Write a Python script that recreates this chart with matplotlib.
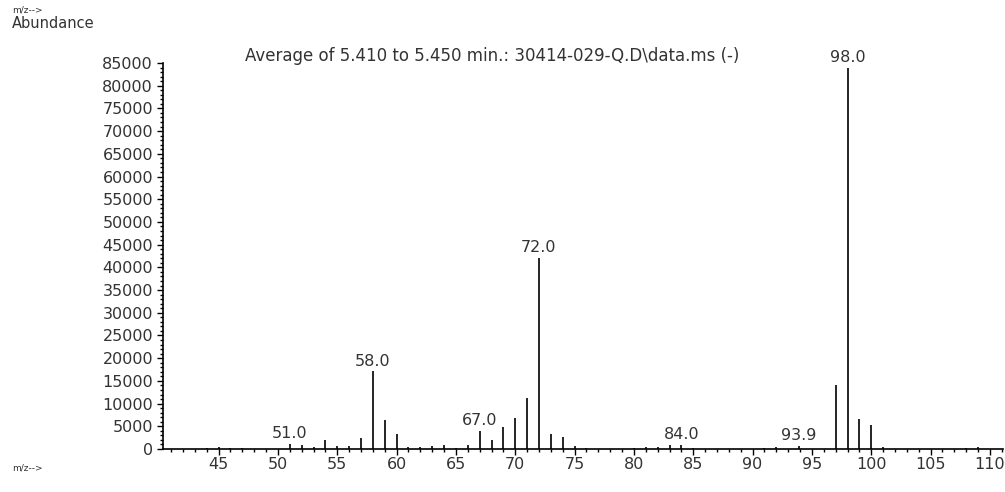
import matplotlib
matplotlib.use("Agg")
import matplotlib.pyplot as plt
from matplotlib.ticker import MultipleLocator

# Espectro de masas promedio (m/z vs abundancia)
mz = [44, 45, 46, 47, 51, 52, 53, 54, 55, 56, 57, 58, 59, 60, 61, 62, 63, 64,
      65, 66, 67, 68, 69, 70, 71, 72, 73, 74, 75, 76, 80, 81, 82, 83, 84, 85,
      91, 92, 93.9, 97, 98, 99, 100, 101, 108, 109]
abundance = [300, 400, 300, 200, 1100, 900, 400, 1900, 600, 700, 2400, 17100,
             6300, 3300, 500, 400, 600, 900, 300, 800, 4000, 2000, 4800, 6800,
             11200, 42000, 3400, 2700, 600, 300, 300, 500, 400, 800, 900, 300,
             300, 400, 600, 14200, 83900, 6700, 5200, 500, 300, 400]

labeled_mz = [51.0, 58.0, 67.0, 72.0, 84.0, 93.9, 98.0]
labeled_ab = [1100, 17100, 4000, 42000, 900, 600, 83900]

title = "Average of 5.410 to 5.450 min.: 30414-029-Q.D\\data.ms (-)"
text_color = "#333333"

fig = plt.figure(figsize=(10.05, 4.92), dpi=100)
ax = fig.add_axes([0.162, 0.0874, 0.836, 0.7846])

ax.vlines(mz, 0, abundance, colors="black", linewidth=1.2)

for m, a in zip(labeled_mz, labeled_ab):
    ax.annotate(f"{m:.1f}", (m, a), xytext=(0, 2), textcoords="offset points",
                ha="center", va="bottom", fontsize=11.5, color=text_color)

ax.set_xlim(40.3, 111.1)
ax.set_ylim(0, 85000)

ax.xaxis.set_major_locator(MultipleLocator(5))
ax.xaxis.set_minor_locator(MultipleLocator(1))
ax.yaxis.set_major_locator(MultipleLocator(5000))
ax.yaxis.set_minor_locator(MultipleLocator(1000))
ax.set_xticks(range(45, 111, 5))

ax.tick_params(axis="both", which="major", direction="out", length=4,
               width=1, labelsize=11.5, labelcolor=text_color)
ax.tick_params(axis="both", which="minor", direction="out", length=2.5, width=1)
ax.tick_params(axis="x", which="major", pad=2)
ax.tick_params(axis="y", which="major", pad=3)

for side in ["top", "right"]:
    ax.spines[side].set_visible(False)
for side in ["left", "bottom"]:
    ax.spines[side].set_linewidth(1.2)

fig.text(12 / 1005, 1 - 10 / 492, "m/z-->", fontsize=6.5, color=text_color,
         va="center", ha="left")
fig.text(12 / 1005, 1 - 23 / 492, "Abundance", fontsize=10.5, color=text_color,
         va="center", ha="left")
fig.text(245 / 1005, 1 - 56 / 492, title, fontsize=12, color=text_color,
         va="center", ha="left")
fig.text(12 / 1005, 1 - 468 / 492, "m/z-->", fontsize=6.5, color=text_color,
         va="center", ha="left")

fig.savefig("out.png", dpi=100)
